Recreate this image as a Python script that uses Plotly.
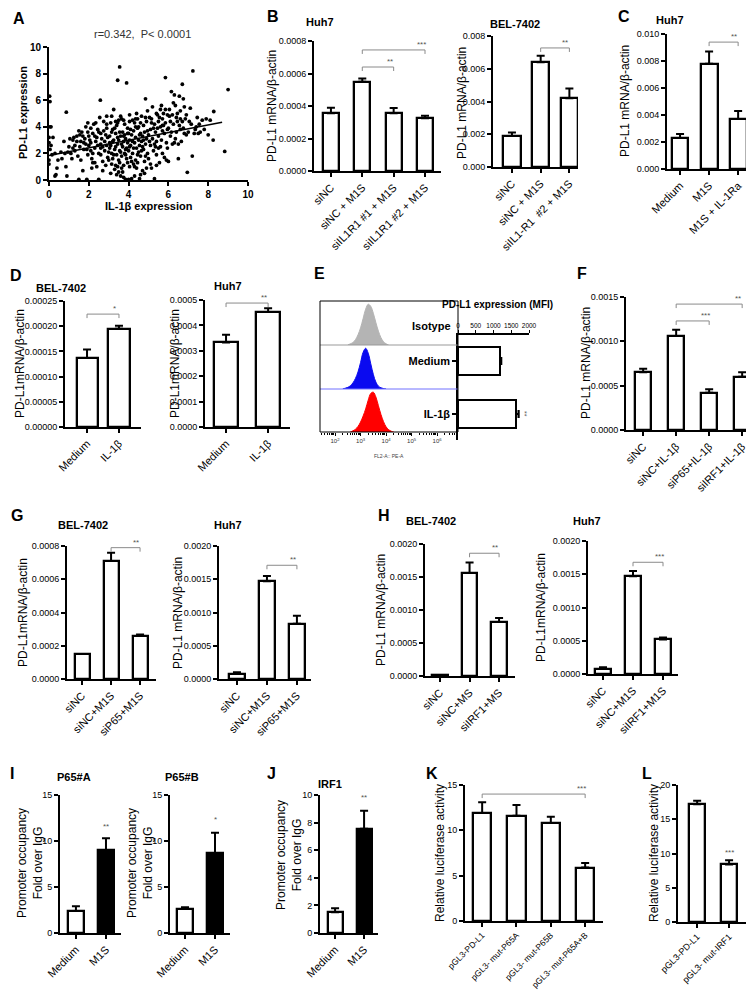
import plotly.graph_objects as go

W, H = 754, 992

# ---------------- DATA ----------------
# Panel A scatter (IL-1b expression, PD-L1 expression)
scatter_pairs = [
    (0.0, 1.2), (0.0, 1.5), (0.05, 2.3), (0.0, 2.8), (0.0, 3.2), (0.05, 4.0), (0.1, 4.0), (0.03, 6.3), (0.05, 5.9),
    (0.1, 2.6), (0.15, 1.9), (0.3, 0.3), (0.35, 0.4), (0.45, 1.5), (0.3, 2.0), (0.4, 0.9), (0.6, 2.1), (0.65, 1.6),
    (0.75, 2.9), (0.85, 1.0), (0.87, 5.1), (0.9, 0.3), (0.95, 2.1), (0.8, 2.0), (0.2, 3.2),
    (1.05, 3.1), (1.1, 2.0), (1.2, 3.0), (1.25, 3.2), (1.3, 2.2), (1.4, 3.3), (1.45, 1.8), (1.5, 3.7), (1.55, 2.5),
    (1.6, 1.5), (1.65, 3.6), (1.7, 0.7), (1.75, 2.8), (1.8, 3.1), (1.85, 4.0), (1.9, 2.3), (1.95, 4.3), (1.95, 1.9),
    (1.6, 2.9), (1.3, 2.6), (1.7, 3.3), (1.85, 2.7), (1.9, 0.05), (1.5, 0.05), (1.15, 1.6), (1.95, 3.6),
    (2.0, 2.6), (2.05, 3.0), (2.1, 2.2), (2.15, 1.6), (2.2, 3.5), (2.25, 4.2), (2.3, 2.4), (2.35, 2.9), (2.4, 1.0),
    (2.45, 3.8), (2.5, 2.0), (2.55, 4.7), (2.58, 6.0), (2.6, 2.7), (2.65, 3.1), (2.7, 1.4), (2.75, 4.4), (2.8, 2.2),
    (2.85, 3.4), (2.9, 4.8), (2.95, 1.7), (2.2, 2.0), (2.4, 3.2), (2.6, 2.4), (2.8, 2.9), (2.3, 1.3), (2.9, 2.6),
    (2.5, 0.05), (2.7, 0.7), (2.1, 3.9), (2.45, 2.6), (2.75, 3.7), (2.95, 3.2), (2.15, 0.9),
    (3.0, 2.1), (3.05, 3.3), (3.1, 2.6), (3.1, 4.3), (3.15, 1.2), (3.2, 2.9), (3.2, 3.8), (3.25, 5.3), (3.3, 2.3),
    (3.3, 0.8), (3.35, 3.5), (3.4, 1.9), (3.4, 4.1), (3.45, 7.5), (3.45, 2.7), (3.5, 3.0), (3.5, 1.5), (3.55, 8.5),
    (3.55, 2.2), (3.6, 3.3), (3.6, 0.3), (3.65, 4.6), (3.65, 1.8), (3.7, 2.5), (3.7, 3.6), (3.75, 1.1), (3.75, 2.9),
    (3.8, 2.0), (3.8, 4.2), (3.85, 3.1), (3.85, 0.05), (3.9, 7.3), (3.9, 2.4), (3.9, 1.6), (3.95, 3.9), (3.95, 2.8),
    (3.0, 1.5), (3.15, 2.0), (3.25, 3.0), (3.35, 2.5), (3.45, 1.0), (3.6, 2.1), (3.7, 0.6), (3.8, 3.4), (3.95, 1.3),
    (3.3, 3.9), (3.5, 4.5), (3.6, 4.8), (3.75, 0.2), (3.4, 0.4), (3.2, 1.6), (3.05, 2.4), (3.85, 2.3), (3.55, 3.6),
    (4.0, 0.05), (4.0, 2.2), (4.05, 3.0), (4.05, 4.4), (4.1, 1.7), (4.1, 2.6), (4.15, 3.4), (4.15, 0.1), (4.2, 4.5),
    (4.2, 2.0), (4.25, 1.2), (4.25, 3.7), (4.3, 2.8), (4.3, 4.3), (4.35, 1.5), (4.35, 3.2), (4.4, 2.4), (4.4, 0.9),
    (4.45, 3.9), (4.45, 4.6), (4.5, 2.1), (4.5, 3.0), (4.55, 0.1), (4.55, 2.6), (4.6, 3.5), (4.6, 1.8), (4.65, 4.8),
    (4.65, 2.9), (4.7, 0.7), (4.7, 3.3), (4.75, 2.3), (4.75, 4.1), (4.8, 3.6), (4.8, 1.4), (4.85, 6.1), (4.85, 2.7),
    (4.9, 4.4), (4.9, 3.1), (4.95, 2.0), (4.95, 5.2), (4.1, 3.8), (4.3, 1.0), (4.5, 4.0), (4.7, 2.5), (4.2, 2.9),
    (4.6, 0.4), (4.0, 3.5), (4.4, 5.0), (4.8, 0.5),
    (5.0, 3.4), (5.0, 1.6), (5.05, 4.7), (5.1, 2.6), (5.1, 3.8), (5.15, 0.9), (5.2, 5.5), (5.2, 3.1), (5.25, 2.2),
    (5.3, 0.1), (5.3, 4.2), (5.35, 3.6), (5.4, 1.9), (5.4, 2.9), (5.45, 4.9), (5.5, 3.3), (5.5, 2.4), (5.55, 1.3),
    (5.6, 4.0), (5.6, 5.3), (5.65, 3.0), (5.7, 2.0), (5.7, 4.6), (5.75, 5.0), (5.8, 3.5), (5.8, 1.7), (5.85, 7.7),
    (5.85, 4.3), (5.9, 2.8), (5.95, 4.9), (5.95, 3.8), (5.1, 1.2), (5.3, 2.7), (5.5, 4.4), (5.7, 3.7), (5.9, 1.5),
    (5.6, 2.5), (5.25, 3.9),
    (6.0, 3.9), (6.0, 1.4), (6.05, 4.8), (6.1, 3.3), (6.15, 6.65), (6.2, 2.7), (6.25, 4.2), (6.3, 6.4), (6.3, 2.8),
    (6.35, 5.6), (6.4, 3.6), (6.45, 4.4), (6.5, 2.7), (6.55, 6.3), (6.6, 3.8), (6.6, 5.2), (6.7, 7.2), (6.7, 4.4),
    (6.75, 6.1), (6.8, 3.5), (6.8, 5.5), (6.85, 4.6), (6.9, 3.4), (6.95, 0.58), (6.5, 1.6), (6.2, 4.9), (6.4, 4.7),
    (6.9, 4.9),
    (7.0, 3.6), (7.05, 4.4), (7.1, 5.4), (7.2, 1.8), (7.23, 8.2), (7.3, 3.5), (7.4, 4.0), (7.45, 4.7), (7.6, 3.6),
    (7.7, 4.5), (7.8, 3.8), (8.0, 3.4), (8.1, 4.5), (8.25, 3.0), (8.28, 5.15), (8.83, 2.15), (9.0, 6.8), (7.5, 3.5),
    (7.9, 4.6),
    (2.1, 2.8), (2.3, 3.3), (2.5, 3.6), (2.7, 2.5), (2.9, 3.9), (3.05, 2.8), (3.15, 3.6), (3.25, 1.9), (3.35, 4.4),
    (3.45, 3.2), (3.55, 1.3), (3.65, 2.7), (3.75, 3.3), (3.85, 1.9), (3.95, 3.5), (4.05, 2.5), (4.15, 1.4),
    (4.25, 2.4), (4.35, 4.0), (4.45, 1.9), (4.55, 3.4), (4.65, 2.2), (4.75, 3.0), (4.85, 1.8), (4.95, 3.7),
    (5.05, 2.9), (5.15, 4.3), (5.35, 2.5), (5.45, 3.9), (5.55, 4.7), (5.65, 5.6), (5.75, 4.1), (5.85, 5.3),
    (5.95, 2.4), (6.05, 5.3), (6.15, 3.6), (6.25, 5.8), (6.35, 3.1), (6.45, 5.0), (6.55, 4.1), (6.65, 2.9),
    (6.75, 3.9), (4.45, 1.3), (3.35, 1.1), (3.65, 0.9), (4.05, 1.0), (4.9, 0.9), (5.4, 1.1), (1.0, 2.5), (1.2, 2.4),
    (1.4, 2.9), (1.55, 3.4), (1.75, 2.3), (2.0, 3.3), (2.2, 1.3), (2.6, 1.9), (2.85, 1.1), (3.1, 0.5), (3.5, 0.6),
    (4.3, 0.3), (2.35, 4.3), (2.6, 3.5), (2.9, 4.2), (3.15, 4.8), (3.45, 4.3), (3.75, 4.5), (4.05, 4.9),
    (4.35, 4.6), (4.6, 4.3), (4.85, 4.7), (5.15, 4.6), (5.4, 5.0), (5.7, 4.1), (6.1, 4.4), (6.6, 4.6), (7.15, 4.2),
    (7.35, 3.8), (7.55, 4.2),
]
fit_x = [0, 8.7]
fit_y = [1.85, 4.35]

# Panel B
b_huh7_labels = ["siNC", "siNC + M1S", "siIL1R1 #1 + M1S", "siIL1R1 #2 + M1S"]
b_huh7_vals = [0.000355, 0.00055, 0.000355, 0.000325]
b_huh7_err = [0.000035, 0.00002, 0.000033, 0.000015]
b_bel_labels = ["siNC", "siNC + M1S", "siIL1-R1  #2 + M1S"]
b_bel_vals = [0.0019, 0.0064, 0.0042]
b_bel_err = [0.0002, 0.0004, 0.0006]
# Panel C
c_labels = ["Medium", "M1S", "M1S + IL-1Ra"]
c_vals = [0.0023, 0.0078, 0.0037]
c_err = [0.0003, 0.0009, 0.0006]
# Panel D
d_labels = ["Medium", "IL-1β"]
d_bel_vals = [0.000137, 0.000195]
d_bel_err = [0.000017, 0.000006]
d_huh7_vals = [0.000333, 0.000453]
d_huh7_err = [0.00003, 0.000015]
# Panel E
e_bar_labels = ["Medium", "IL-1β"]
e_mfi = [1190, 1640]
e_mfi_err = [30, 70]
iso_log = [2.5, 2.6, 2.7, 2.8, 2.9, 3.0, 3.1, 3.2, 3.3, 3.4, 3.5, 3.6, 3.7, 3.8, 3.9, 4.0, 4.1]
iso_count = [0, 0.03, 0.06, 0.13, 0.25, 0.42, 0.65, 0.88, 1.0, 0.95, 0.78, 0.55, 0.34, 0.18, 0.08, 0.03, 0]
med_log = [2.3, 2.4, 2.5, 2.6, 2.7, 2.8, 2.9, 3.0, 3.1, 3.2, 3.3, 3.4, 3.5, 3.6, 3.7, 3.8, 3.9, 4.0]
med_count = [0, 0.02, 0.04, 0.08, 0.15, 0.26, 0.42, 0.65, 0.9, 1.0, 0.88, 0.62, 0.36, 0.17, 0.07, 0.03, 0.01, 0]
il1_log = [2.6, 2.7, 2.8, 2.9, 3.0, 3.1, 3.2, 3.3, 3.4, 3.5, 3.6, 3.7, 3.8, 3.9, 4.0, 4.1, 4.2, 4.3]
il1_count = [0, 0.03, 0.07, 0.14, 0.25, 0.4, 0.58, 0.8, 0.97, 1.0, 0.88, 0.66, 0.44, 0.26, 0.13, 0.06, 0.02, 0]
# Panel F
f_labels = ["siNC", "siNC+IL-1β", "siP65+IL-1β", "siIRF1+IL-1β"]
f_vals = [0.00065, 0.00106, 0.00042, 0.0006]
f_err = [0.00004, 0.00007, 0.00004, 0.00005]
# Panel G
g_labels = ["siNC", "siNC+M1S", "siP65+M1S"]
g_bel_vals = [0.00015, 0.00071, 0.00026]
g_bel_err = [0.0, 0.00005, 0.000008]
g_huh7_vals = [0.00008, 0.00147, 0.00083]
g_huh7_err = [0.00002, 0.00008, 0.00012]
# Panel H
h_bel_labels = ["siNC", "siNC+MS", "siIRF1+MS"]
h_bel_vals = [0.00001, 0.00156, 0.00082]
h_bel_err = [0.000005, 0.00016, 0.00006]
h_huh7_labels = ["siNC", "siNC+M1S", "siIRF1+M1S"]
h_huh7_vals = [0.00008, 0.00147, 0.00052]
h_huh7_err = [0.00002, 0.00008, 0.00003]
# Panel I / J
ij_labels = ["Medium", "M1S"]
i_a_vals = [2.4, 9.0]
i_a_err = [0.5, 1.3]
i_b_vals = [2.6, 8.7]
i_b_err = [0.2, 2.2]
j_vals = [1.5, 7.55]
j_err = [0.3, 1.3]
# Panel K / L
k_labels = ["pGL3-PD-L1", "pGL3- mut-P65A", "pGL3- mut-P65B", "pGL3- mut-P65A+B"]
k_vals = [11.9, 11.6, 10.8, 5.9]
k_err = [1.2, 1.2, 0.7, 0.5]
l_labels = ["pGL3-PD-L1", "pGL3- mut-IRF1"]
l_vals = [17.2, 8.4]
l_err = [0.5, 0.6]

# ---------------- FIGURE ----------------
FONT = "Liberation Sans, Arial, sans-serif"
fig = go.Figure()
annotations = []
shapes = []
layout_axes = {}
counter = [0]


def new_axes(l, r, t, b):
    counter[0] += 1
    n = counter[0]
    xa = 'x' if n == 1 else f'x{n}'
    ya = 'y' if n == 1 else f'y{n}'
    xk = 'xaxis' if n == 1 else f'xaxis{n}'
    yk = 'yaxis' if n == 1 else f'yaxis{n}'
    layout_axes[xk] = dict(domain=[l / W, r / W], anchor=ya, automargin=False)
    layout_axes[yk] = dict(domain=[1 - b / H, 1 - t / H], anchor=xa, automargin=False)
    return xa, ya, xk, yk


def text(t, x, y, size, bold=False, color='black', xanchor='center', yanchor='middle', angle=0):
    annotations.append(dict(text=f'<b>{t}</b>' if bold else t, x=x / W, y=1 - y / H, xref='paper', yref='paper',
                            showarrow=False, font=dict(size=size, color=color, family=FONT),
                            xanchor=xanchor, yanchor=yanchor, textangle=angle))


AX_COMMON = dict(showline=True, linecolor='black', linewidth=2, ticks='outside', ticklen=4, tickwidth=1.5,
                 tickcolor='black', showgrid=False, zeroline=False, fixedrange=True, automargin=False)


def bar_panel(geom, labels, vals, errs, xr, bw, yr, dtick, fmt, colors=None, brackets=(), stars=(), lab_size=11):
    l, r, t, b = geom
    xa, ya, xk, yk = new_axes(l, r, t, b)
    xs = list(range(len(vals)))
    fig.add_trace(go.Bar(
        x=xs, y=vals, width=bw, xaxis=xa, yaxis=ya, showlegend=False,
        marker=dict(color=colors or 'white', line=dict(color='black', width=2.3)),
        error_y=dict(type='data', symmetric=False, array=errs, arrayminus=[0] * len(errs),
                     color='black', thickness=2, width=4)))
    layout_axes[xk].update(AX_COMMON, range=xr, tickvals=xs, ticktext=labels, tickangle=-45,
                           tickfont=dict(size=lab_size, color='black', family=FONT))
    layout_axes[yk].update(AX_COMMON, range=yr, dtick=dtick, tick0=0, tickformat=fmt,
                           tickfont=dict(size=9, color='black', family=FONT))
    tk = 4 * (yr[1] - yr[0]) / (b - t)
    for (x1, x2, yv, s) in brackets:
        shapes.append(dict(type='path', xref=xa, yref=ya, layer='above',
                           path=f"M {x1},{yv - tk} L {x1},{yv} L {x2},{yv} L {x2},{yv - tk}",
                           line=dict(color='#8a8a8a', width=1)))
        annotations.append(dict(text=s, x=x2, y=yv, xref=xa, yref=ya, showarrow=False, xshift=-4, yshift=-1,
                                yanchor='bottom', font=dict(size=8, color='#555555', family=FONT)))
    for (xi, yv, s) in stars:
        annotations.append(dict(text=s, x=xi, y=yv, xref=xa, yref=ya, showarrow=False,
                                yanchor='middle', font=dict(size=8, color='#555555', family=FONT)))
    return xa, ya


YT = 'PD-L1 mRNA/β-actin'
YT2 = 'PD-L1mRNA/β-actin'

# ---- Panel A ----
xa, ya, xk, yk = new_axes(41, 240, 39, 172)
il1b_expr = [p[0] for p in scatter_pairs]
pdl1_expr = [p[1] for p in scatter_pairs]
fig.add_trace(go.Scatter(x=il1b_expr, y=pdl1_expr, mode='markers', xaxis=xa, yaxis=ya, cliponaxis=False,
                         marker=dict(color='black', size=3.8), showlegend=False))
fig.add_trace(go.Scatter(x=fit_x, y=fit_y, mode='lines', xaxis=xa, yaxis=ya,
                         line=dict(color='black', width=1.5), showlegend=False))
layout_axes[xk].update(AX_COMMON, range=[0, 10], dtick=2, tick0=0,
                       tickfont=dict(size=10, color='black', family=FONT))
layout_axes[yk].update(AX_COMMON, range=[0, 10], dtick=2, tick0=0,
                       tickfont=dict(size=10, color='black', family=FONT))
layout_axes[xk]['tickprefix'] = '<b>'
layout_axes[yk]['tickprefix'] = '<b>'
text('r=0.342,  P< 0.0001', 134, 26, 11, color='#333333')
text('IL-1β expression', 141, 198, 11, bold=True)
text('PD-L1 expression', 15, 105, 11, bold=True, angle=-90)

# ---- Panel B ----
bar_panel((306, 433, 33, 163), b_huh7_labels, b_huh7_vals, b_huh7_err, [-0.54, 3.51], 0.52,
          [0, 0.0008], 0.0002, '.4f', brackets=[(1, 2, 0.00064, '**'), (1, 3, 0.000745, '***')])
text('Huh7', 312, 14, 11, bold=True)
text(YT, 264, 98, 12, angle=-90)
bar_panel((485, 570, 28, 159), b_bel_labels, b_bel_vals, b_bel_err, [-0.66, 2.3], 0.6,
          [0, 0.008], 0.002, '.3f', brackets=[(1, 2, 0.00727, '**')])
text('BEL-7402', 507, 16, 11, bold=True)
text(YT, 454, 95, 12, angle=-90)

# ---- Panel C ----
bar_panel((659, 740, 26, 161), c_labels, c_vals, c_err, [-0.45, 2.34], 0.58,
          [0, 0.01], 0.002, '.3f', brackets=[(1, 2, 0.0094, '**')])
text('Huh7', 662, 12, 11, bold=True)
text(YT, 617, 93, 12, angle=-90)

# ---- Panel D ----
bar_panel((57, 133, 293, 419), d_labels, d_bel_vals, d_bel_err, [-0.69, 1.69], 0.66,
          [0, 0.00025], 0.00005, '.5f', brackets=[(0, 1, 0.000224, '*')])
text('BEL-7402', 53, 280, 11, bold=True)
text(YT2, 12, 356, 12, angle=-90)
bar_panel((197, 282, 292, 419), d_labels, d_huh7_vals, d_huh7_err, [-0.5, 1.52], 0.57,
          [0, 0.0005], 0.0001, '.4f', brackets=[(0, 1, 0.000488, '**')])
text('Huh7', 220, 278, 11, bold=True)
text(YT2, 167, 356, 12, angle=-90)

# ---- Panel E: flow histograms ----
rows = [(293, 337, iso_log, iso_count, '#b4b4b4'),
        (337, 381, med_log, med_count, '#0a0af0'),
        (381, 424, il1_log, il1_count, '#ff0000')]
for i, (t, b, lx, cy, col) in enumerate(rows):
    xa, ya, xk, yk = new_axes(312, 450, t, b)
    fig.add_trace(go.Scatter(x=lx, y=cy, mode='lines', fill='tozeroy', fillcolor=col,
                             line=dict(color=col, width=1, shape='spline'), xaxis=xa, yaxis=ya, showlegend=False))
    layout_axes[xk].update(range=[1.41, 6.82], showgrid=False, zeroline=False, showline=False, fixedrange=True,
                           showticklabels=False, ticks='')
    layout_axes[yk].update(range=[0, 1.08], visible=False, fixedrange=True)
    if i == 2:
        minor_vals = [d + m for d in [1, 2, 3, 4, 5, 6] for m in
                      [0.301, 0.477, 0.602, 0.699, 0.778, 0.845, 0.903, 0.954] if 1.41 < d + m < 6.82]
        layout_axes[xk].update(showticklabels=True, ticks='outside', ticklen=3, tickwidth=1, tickcolor='black',
                               tickvals=[2, 3, 4, 5, 6],
                               ticktext=['10<sup>2</sup>', '10<sup>3</sup>', '10<sup>4</sup>', '10<sup>5</sup>',
                                         '10<sup>6</sup>'],
                               tickfont=dict(size=6, color='#333333', family=FONT),
                               minor=dict(tickvals=minor_vals, ticks='outside', ticklen=1.5, tickcolor='black'))
shapes.append(dict(type='line', xref='paper', yref='paper', x0=312 / W, x1=450 / W, y0=1 - 337 / H, y1=1 - 337 / H,
                   line=dict(color='#999999', width=1)))
shapes.append(dict(type='line', xref='paper', yref='paper', x0=312 / W, x1=450 / W, y0=1 - 381 / H, y1=1 - 381 / H,
                   line=dict(color='#7070ff', width=1)))
shapes.append(dict(type='rect', xref='paper', yref='paper', x0=312 / W, x1=450 / W, y0=1 - 424 / H, y1=1 - 293 / H,
                   line=dict(color='black', width=1)))
text('FL2-A:: PE-A', 381, 448, 5, color='#444444')
text('Isotype', 445, 318, 11, bold=True, xanchor='right')

# E bar chart
xa, ya, xk, yk = new_axes(450, 521, 327, 432)
fig.add_trace(go.Bar(x=e_mfi, y=[0, 1], orientation='h', width=0.51, xaxis=xa, yaxis=ya, showlegend=False,
                     marker=dict(color='white', line=dict(color='black', width=2)),
                     error_x=dict(type='data', symmetric=False, array=e_mfi_err, arrayminus=[0, 0],
                                  color='black', thickness=2, width=4)))
layout_axes[xk].update(AX_COMMON, side='top', range=[0, 2000], tickvals=[0, 500, 1000, 1500, 2000],
                       linewidth=1.5, ticklen=3, tickwidth=1,
                       tickfont=dict(size=6.5, color='black', family=FONT))
layout_axes[yk].update(AX_COMMON, range=[1.49, -0.49], tickvals=[0, 1],
                       ticktext=['<b>Medium</b>', '<b>IL-1β</b>'], linewidth=1.5,
                       tickfont=dict(size=11, color='black', family=FONT))
text('PD-L1 expression (MFI)', 489, 297, 10, bold=True)
text('**', 517, 406, 7, color='#555555', angle=90)

# ---- Panel F ----
bar_panel((618, 750, 289, 422), f_labels, f_vals, f_err, [-0.52, 3.48], 0.5,
          [0, 0.0015], 0.0005, '.4f', brackets=[(1, 2, 0.00123, '***'), (1, 3, 0.00142, '**')])
text(YT, 578, 355, 12, angle=-90)

# ---- Panel G ----
bar_panel((59, 148, 538, 671), g_labels, g_bel_vals, g_bel_err, [-0.52, 2.55], 0.52,
          [0, 0.0008], 0.0002, '.4f', brackets=[(1, 2, 0.00079, '**')])
text('BEL-7402', 75, 517, 11, bold=True)
text(YT2, 15, 605, 12, angle=-90)
bar_panel((211, 303, 538, 671), g_labels, g_huh7_vals, g_huh7_err, [-0.6, 2.47], 0.52,
          [0, 0.002], 0.0005, '.4f', brackets=[(1, 2, 0.00171, '**')])
text('Huh7', 220, 517, 11, bold=True)
text(YT, 170, 605, 12, angle=-90)

# ---- Panel H ----
bar_panel((417, 507, 536, 668), h_bel_labels, h_bel_vals, h_bel_err, [-0.51, 2.54], 0.52,
          [0, 0.002], 0.0005, '.4f', brackets=[(1, 2, 0.00186, '**')])
text('BEL-7402', 423, 513, 11, bold=True)
text(YT, 373, 602, 12, angle=-90)
bar_panel((580, 670, 533, 666), h_huh7_labels, h_huh7_vals, h_huh7_err, [-0.5, 2.5], 0.52,
          [0, 0.002], 0.0005, '.4f', brackets=[(1, 2, 0.00168, '***')])
text('Huh7', 579, 513, 11, bold=True)
text(YT2, 533, 600, 12, angle=-90)

# ---- Panel I ----
bar_panel((52, 113, 787, 925), ij_labels, i_a_vals, i_a_err, [-0.53, 1.5], 0.53,
          [0, 15], 5, 'd', colors=['white', 'black'], stars=[(1, 11.6, '**')])
text('P65#A', 66, 769, 11, bold=True)
text('Promoter occupancy<br>Fold over IgG', 22, 855, 12, angle=-90)
bar_panel((162, 222, 787, 925), ij_labels, i_b_vals, i_b_err, [-0.5, 1.5], 0.53,
          [0, 15], 5, 'd', colors=['white', 'black'], stars=[(1, 12.3, '*')])
text('P65#B', 174, 769, 11, bold=True)
text('Promoter occupancy<br>Fold over IgG', 132, 855, 12, angle=-90)

# ---- Panel J ----
bar_panel((312, 370, 787, 925), ij_labels, j_vals, j_err, [-0.52, 1.48], 0.52,
          [0, 10], 2, 'd', colors=['white', 'black'], stars=[(1, 9.8, '**')])
text('IRF1', 322, 776, 11, bold=True)
text('Promoter occupancy<br>Fold over IgG', 281, 847, 12, angle=-90)

# ---- Panel K ----
bar_panel((457, 595, 777, 913), k_labels, k_vals, k_err, [-0.5, 3.52], 0.53,
          [0, 15], 5, 'd', brackets=[(0, 3, 14.0, '***')], lab_size=8.5)
text('Relative luciferase activity', 432, 845, 12, angle=-90)

# ---- Panel L ----
bar_panel((670, 738, 777, 914), l_labels, l_vals, l_err, [-0.6, 1.53], 0.5,
          [0, 20], 5, 'd', stars=[(1, 10.1, '***')], lab_size=9)
text('Relative luciferase activity', 646, 845, 12, angle=-90)

# ---- Panel letters ----
for letter, x, y in [('A', 3, 10), ('B', 257, 9), ('C', 608, 9), ('D', 0, 267), ('E', 304, 266), ('F', 567, 266),
                     ('G', 1, 507), ('H', 368, 507), ('I', 0, 765), ('J', 257, 765), ('K', 416, 765),
                     ('L', 632, 765)]:
    text(letter, x, y, 16, bold=True, xanchor='left')

fig.update_layout(**layout_axes)
fig.update_layout(template='none', width=W, height=H, margin=dict(l=0, r=0, t=0, b=0, pad=0),
                  plot_bgcolor='white', paper_bgcolor='white', showlegend=False,
                  font=dict(family=FONT, color='black'),
                  annotations=annotations, shapes=shapes, bargap=0)
fig.write_html("out.html")
